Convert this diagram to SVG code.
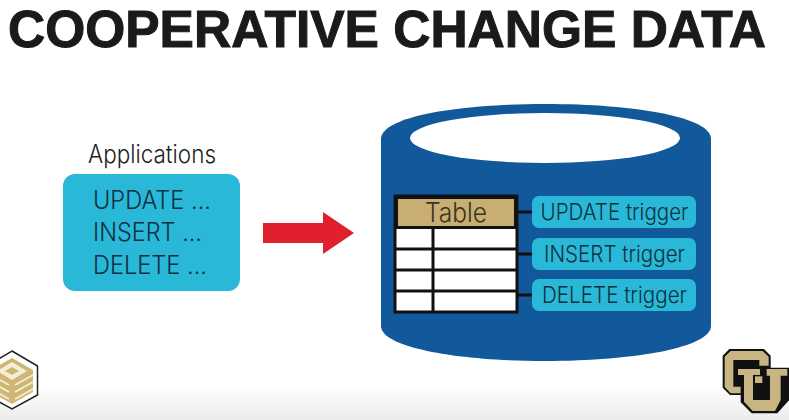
<svg xmlns="http://www.w3.org/2000/svg" width="789" height="420" viewBox="0 0 789 420">
<defs>
<linearGradient id="bg" x1="0" y1="0" x2="0" y2="1"><stop offset="0" stop-color="#ffffff"/><stop offset="1" stop-color="#ececec"/></linearGradient>
</defs>
<style>
text{font-family:Inter,"Liberation Sans",Arial,sans-serif;font-weight:300;fill:#1c2b33}
.trig{fill:#29b8d8}
.lab{font-size:22.500px;text-anchor:middle;fill:#10303f}
.app{font-size:25px;fill:#10303f}
.ln{stroke:#111;stroke-width:3;fill:none}
.gold{fill:#c8b682}
</style>
<rect width="789" height="420" fill="#fff"/>
<rect y="385" width="789" height="35" fill="url(#bg)"/>
<text id="title" x="8" y="47" style="font-family:'Liberation Sans',Arial,sans-serif;font-size:51px;font-weight:bold;fill:#1a1a1a;stroke:#1a1a1a;stroke-width:1" textLength="758" lengthAdjust="spacingAndGlyphs">COOPERATIVE CHANGE DATA</text>
<g id="applications">
<text x="88" y="163" style="font-size:25px;fill:#222" textLength="128" lengthAdjust="spacingAndGlyphs">Applications</text>
<rect x="63" y="174" width="177" height="117" rx="12" class="trig"/>
<text x="93" y="209" class="app" textLength="118" lengthAdjust="spacingAndGlyphs">UPDATE ...</text>
<text x="93" y="241" class="app" textLength="109" lengthAdjust="spacingAndGlyphs">INSERT ...</text>
<text x="93" y="274" class="app" textLength="114" lengthAdjust="spacingAndGlyphs">DELETE ...</text>
</g>
<g id="database">
<path d="M381,139 C381,117 455,104 545,104 C636,104 711,117 711,139 L711,326 C711,347 636,361 545,361 C455,361 381,347 381,326 Z" fill="#11599a"/>
<ellipse cx="545" cy="138" rx="135" ry="25" fill="#fff"/>
</g>
<g id="connectors">
<polygon points="263,223 323,223 323,212 354,233 323,254 323,243 263,243" fill="#e01f2f"/>
<line x1="517" y1="212" x2="533" y2="212" class="ln"/>
<line x1="517" y1="254" x2="533" y2="254" class="ln"/>
<line x1="517" y1="295" x2="533" y2="295" class="ln"/>
</g>
<g id="table">
<rect x="395" y="196" width="122" height="116" fill="#fff" stroke="#111" stroke-width="3"/>
<rect x="396.500" y="197.500" width="119" height="30" fill="#c8ae72" stroke="#111" stroke-width="3"/>
<line x1="395" y1="249" x2="517" y2="249" class="ln"/>
<line x1="395" y1="270" x2="517" y2="270" class="ln"/>
<line x1="395" y1="291" x2="517" y2="291" class="ln"/>
<line x1="433" y1="228" x2="433" y2="312" class="ln"/>
<text x="456" y="222" text-anchor="middle" style="font-size:27px;fill:#3a3320" textLength="62" lengthAdjust="spacingAndGlyphs">Table</text>
</g>
<g id="update-trigger"><rect x="532" y="196" width="164" height="32" rx="7" class="trig"/><text x="614.500" y="220" class="lab" textLength="148" lengthAdjust="spacingAndGlyphs">UPDATE trigger</text></g>
<g id="insert-trigger"><rect x="532" y="238" width="164" height="32" rx="7" class="trig"/><text x="614.500" y="262" class="lab" textLength="141" lengthAdjust="spacingAndGlyphs">INSERT trigger</text></g>
<g id="delete-trigger"><rect x="532" y="279" width="164" height="32" rx="7" class="trig"/><text x="614.500" y="303" class="lab" textLength="145" lengthAdjust="spacingAndGlyphs">DELETE trigger</text></g>
<g id="logo-left">
<polygon points="12,351 37.500,366 37.500,395 12,409 -13,395 -13,366" fill="#fff" stroke="#222" stroke-width="1.500"/>
<polygon points="12,358 33,370 33,392 12,404 -9,392 -9,370" fill="#cdb772"/>
<polygon points="12,362 27,371 12,380 -3,371" fill="#f4eeda"/>
<polygon points="12,367 19,371 12,375 5,371" fill="#cdb772"/>
<path d="M15,385 L33,375 M15,392 L33,382 M15,399 L33,389 M9,385 L-9,375 M9,392 L-9,382 M9,399 L-9,389" stroke="#f4eeda" stroke-width="1.800" fill="none"/>
</g>
<g id="logo-right" transform="translate(720,345) scale(0.3333)">
<path d="M28,12 L132,12 L152,32 L152,68 L208,68 L208,165 L172,205 L95,205 L62,172 L62,150 L30,150 L8,128 L8,32 Z" fill="#111"/>
<path class="gold" d="M32,18 L128,18 L146,35 L146,62 L118,62 L118,45 L40,45 L40,125 L62,125 L62,145 L32,145 L14,126 L14,35 Z"/>
<path class="gold" d="M54,72 L120,72 L120,90 L99,90 L99,165 L150,165 L150,92 L140,92 L140,72 L202,72 L202,92 L182,92 L182,165 L165,198 L98,198 L72,170 L72,90 L54,90 Z"/>
<rect x="105" y="94" width="22" height="20" class="gold"/>
</g>
</svg>
